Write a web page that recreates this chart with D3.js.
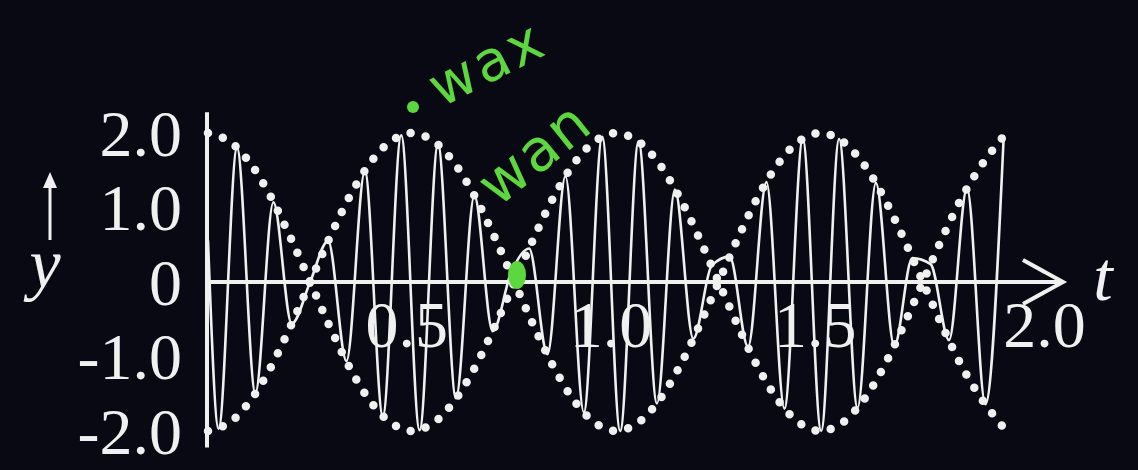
<!DOCTYPE html>
<html>
<head>
<meta charset="utf-8">
<script src="https://cdn.jsdelivr.net/npm/d3@7"></script>
<style>
  html, body { margin: 0; padding: 0; background: #080913; }
  svg { display: block; }
</style>
</head>
<body>
<svg id="chart" width="1138" height="470"></svg>
<script>
// Beats: the sum of two close frequencies, drawn with its dotted envelope.

// Tick labels
const xTicks = [0.5, 1.0, 1.5, 2.0];
const yTicks = [2.0, 1.0, 0, -1.0, -2.0];

// Crests and troughs of the fast oscillation (time in s, displacement)
const waveT = [0, 0.026, 0.071, 0.116, 0.160, 0.205, 0.250, 0.294, 0.339, 0.384, 0.428,
  0.473, 0.518, 0.563, 0.607, 0.652, 0.697, 0.741, 0.786, 0.831, 0.875,
  0.920, 0.965, 1.009, 1.054, 1.099, 1.143, 1.188, 1.233, 1.277, 1.322,
  1.367, 1.411, 1.456, 1.501, 1.545, 1.590, 1.635, 1.680, 1.724, 1.769,
  1.814, 1.858, 1.903, 1.948];
const waveY = [0.56, -1.97, 1.80, -1.49, 1.07, -0.56, 0.00, 0.55, -1.06, 1.49, -1.80,
  1.97, -1.99, 1.85, -1.56, 1.16, -0.66, 0.11, 0.45, -0.97, 1.42,
  -1.75, 1.95, -2.00, 1.89, -1.63, 1.24, -0.76, 0.22, 0.34, -0.87,
  1.34, -1.70, 1.92, -2.00, 1.92, -1.69, 1.33, -0.86, 0.32, 0.24,
  -0.78, 1.26, -1.64, 1.97];

// Envelope (amplitude) curves
const envT = [0, 0.05, 0.10, 0.15, 0.20, 0.25, 0.30, 0.35, 0.40, 0.45,
  0.50, 0.55, 0.60, 0.65, 0.70, 0.75, 0.80, 0.85, 0.90, 0.95,
  1.00, 1.05, 1.10, 1.15, 1.20, 1.25, 1.30, 1.35, 1.40, 1.45,
  1.50, 1.55, 1.60, 1.65, 1.70, 1.75, 1.80, 1.85, 1.90, 1.95];
const envUpper = [2.00, 1.90, 1.62, 1.18, 0.62, 0.00, -0.62, -1.18, -1.62, -1.90,
  -2.00, -1.90, -1.62, -1.18, -0.62, 0.00, 0.62, 1.18, 1.62, 1.90,
  2.00, 1.90, 1.62, 1.18, 0.62, 0.00, -0.62, -1.18, -1.62, -1.90,
  -2.00, -1.90, -1.62, -1.18, -0.62, 0.00, 0.62, 1.18, 1.62, 1.97];
const envLower = [-2.00, -1.90, -1.62, -1.18, -0.62, 0.00, 0.62, 1.18, 1.62, 1.90,
  2.00, 1.90, 1.62, 1.18, 0.62, 0.00, -0.62, -1.18, -1.62, -1.90,
  -2.00, -1.90, -1.62, -1.18, -0.62, 0.00, 0.62, 1.18, 1.62, 1.90,
  2.00, 1.90, 1.62, 1.18, 0.62, 0.00, -0.62, -1.18, -1.62, -1.97];

const ink = "#f0f0f0";
const green = "#5cd83e";
const serif = "'Liberation Serif', 'DejaVu Serif', serif";

const svg = d3.select("#chart");
svg.append("rect").attr("width", 1138).attr("height", 470).attr("fill", "#080913");

const defs = svg.append("defs");
defs.append("filter").attr("id", "soft")
  .attr("x", "-5%").attr("y", "-5%").attr("width", "110%").attr("height", "110%")
  .append("feGaussianBlur").attr("stdDeviation", 0.6);

const x = d3.scaleLinear().domain([0, 2]).range([208, 1025]);
const y = d3.scaleLinear().domain([-2, 2]).range([431, 133]);

const g = svg.append("g").attr("filter", "url(#soft)");

// Dotted envelopes
const envLine = d3.line().x(d => x(d[0])).y(d => y(d[1])).curve(d3.curveCatmullRom);
[envUpper, envLower].forEach(vals => {
  g.append("path")
    .datum(envT.map((t, i) => [t, vals[i]]))
    .attr("d", envLine)
    .attr("fill", "none")
    .attr("stroke", ink)
    .attr("stroke-width", 8.5)
    .attr("stroke-linecap", "round")
    .attr("stroke-dasharray", "0 15.5");
});

// Fast oscillation
const waveLine = d3.line().x(d => x(d[0])).y(d => y(d[1])).curve(d3.curveMonotoneX);
g.append("path")
  .datum(waveT.map((t, i) => [t, waveY[i]]))
  .attr("d", waveLine)
  .attr("fill", "none")
  .attr("stroke", ink)
  .attr("stroke-width", 2.6)
  .attr("stroke-linejoin", "round");

// Vertical axis with tick labels
const yAxis = g.append("g")
  .attr("transform", `translate(${x(0) - 1},0)`)
  .call(d3.axisLeft(y).tickValues(yTicks).tickSize(0).tickPadding(25)
    .tickFormat(d => d === 0 ? "0" : d3.format(".1f")(d).replace("−", "-")));
yAxis.select(".domain").remove();
yAxis.selectAll("text")
  .attr("fill", ink)
  .attr("font-family", serif)
  .attr("font-size", 66)
  .attr("dy", "0.34em");

g.append("line")
  .attr("x1", x(0) - 1).attr("x2", x(0) - 1)
  .attr("y1", y(2.28)).attr("y2", y(-2.22))
  .attr("stroke", ink).attr("stroke-width", 4);

// Horizontal axis with arrow and tick labels
const xAxis = g.append("g")
  .attr("transform", `translate(0,${y(0)})`)
  .call(d3.axisBottom(x).tickValues(xTicks).tickSize(0)
    .tickFormat(d3.format(".1f")));
xAxis.select(".domain").remove();
xAxis.selectAll("text")
  .attr("fill", ink)
  .attr("font-family", serif)
  .attr("font-size", 66)
  .attr("y", 65)
  .attr("dy", 0)
  .attr("dx", d => d === 2 ? 19 : -6);

const axisEnd = x(2) + 38;
g.append("line")
  .attr("x1", x(0) - 3).attr("x2", axisEnd)
  .attr("y1", y(0)).attr("y2", y(0))
  .attr("stroke", ink).attr("stroke-width", 4);
g.append("path")
  .attr("d", `M${axisEnd - 40},${y(0) - 22} L${axisEnd},${y(0)} L${axisEnd - 40},${y(0) + 22}`)
  .attr("fill", "none").attr("stroke", ink).attr("stroke-width", 4)
  .attr("stroke-linejoin", "miter");

g.append("text")
  .attr("x", axisEnd + 40).attr("y", y(0) + 18)
  .attr("fill", ink).attr("font-family", serif).attr("font-style", "italic")
  .attr("font-size", 70).attr("text-anchor", "middle")
  .text("t");

// Vertical quantity label with its arrow
g.append("line")
  .attr("x1", 50).attr("x2", 50).attr("y1", 240).attr("y2", 183)
  .attr("stroke", ink).attr("stroke-width", 3);
g.append("path")
  .attr("d", "M50,172 L57,188 L43,188 Z")
  .attr("fill", ink);
g.append("text")
  .attr("x", 45).attr("y", 287)
  .attr("fill", ink).attr("font-family", serif).attr("font-style", "italic")
  .attr("font-size", 70).attr("text-anchor", "middle")
  .text("y");

// Handwritten notes
const notes = svg.append("g").attr("fill", green);
notes.append("circle").attr("cx", 413).attr("cy", 107).attr("r", 6);
notes.append("ellipse").attr("cx", 517).attr("cy", 275).attr("rx", 9).attr("ry", 14);
notes.append("text")
  .attr("transform", "translate(441,108) rotate(-27)")
  .attr("font-family", "'DejaVu Sans', sans-serif")
  .attr("font-size", 56).attr("letter-spacing", 3)
  .text("wax");
notes.append("text")
  .attr("transform", "translate(498,208) rotate(-39)")
  .attr("font-family", "'DejaVu Sans', sans-serif")
  .attr("font-size", 58).attr("letter-spacing", 2)
  .text("wan");
</script>
</body>
</html>
